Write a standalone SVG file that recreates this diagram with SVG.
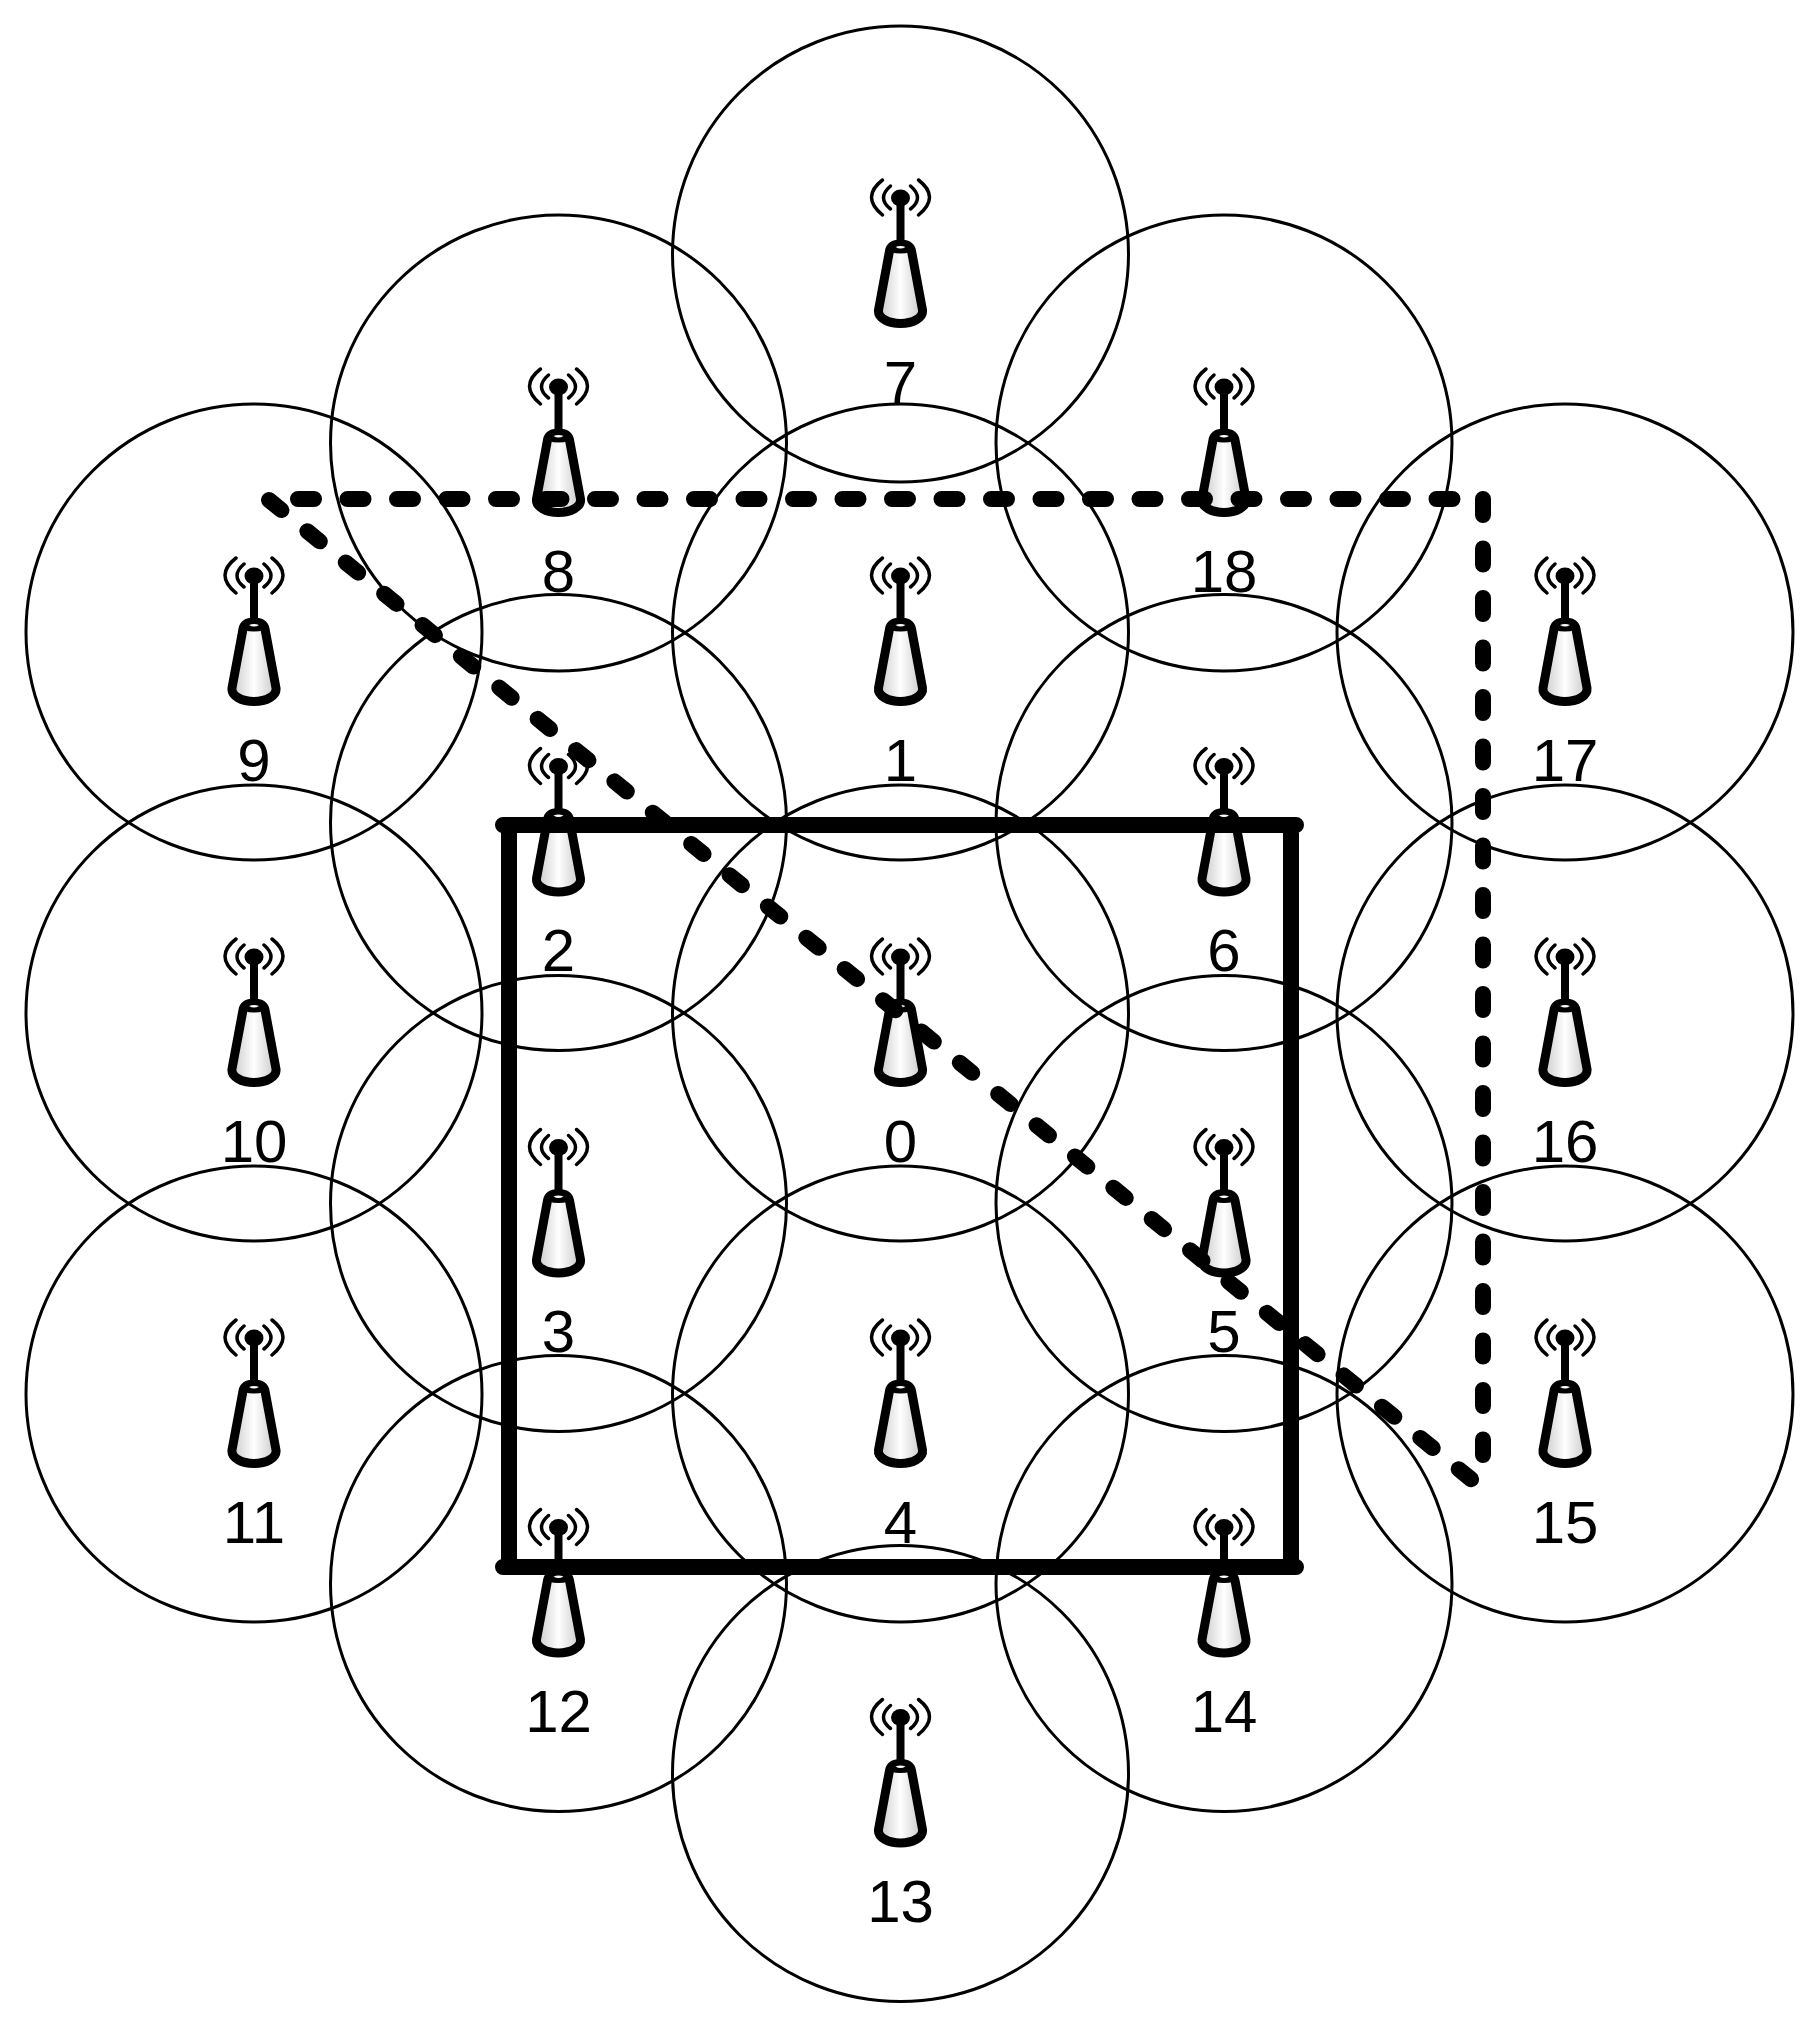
<svg xmlns="http://www.w3.org/2000/svg" width="1820" height="2018" viewBox="0 0 1820 2018">
<style>
.cell{fill:none;stroke:#000;stroke-width:3}
.lbl{font-family:"Liberation Sans",Arial,sans-serif;font-size:60px;text-anchor:middle;fill:#000}
.solid{stroke:#000;stroke-width:16;stroke-linecap:round;fill:none}
.dash{stroke:#000;stroke-width:16;stroke-linecap:round;stroke-dasharray:16 33.5;fill:none}
</style>
<defs>
<linearGradient id="g" x1="0" x2="1" y1="0" y2="0"><stop offset="0" stop-color="#c8c8c8"/><stop offset="0.5" stop-color="#ffffff"/><stop offset="1" stop-color="#c8c8c8"/></linearGradient>
<g id="ant">
<path d="M-11,-3 C-10,-8 -6,-10 0,-10 C6,-10 10,-8 11,-3 L22,56 C23,64 12,69.500 0,69.500 C-12,69.500 -23,64 -22,56 Z" fill="url(#g)" stroke="#000" stroke-width="9" stroke-linejoin="round"/>
<path d="M-10,-2 Q0,-14 10,-2 Q0,1 -10,-2Z" fill="#000"/>
<path d="M-5,-7 Q0,-4 5,-7 Q0,-9 -5,-7Z" fill="#fff"/>
<path d="M0,-56V-12" stroke="#000" stroke-width="8" fill="none"/>
<ellipse cx="0" cy="-56" rx="9.500" ry="8.500" fill="#000"/>
<g fill="none" stroke="#000" stroke-width="3.500" stroke-linecap="round">
<path d="M-10,-68 Q-24,-56 -10,-45M10,-68 Q24,-56 10,-45M-18,-74 Q-40,-57 -18,-39M18,-74 Q40,-57 18,-39"/>
</g>
</g>
</defs>
<rect width="1820" height="2018" fill="#fff"/>
<g id="node-0"><circle class="cell" cx="900.500" cy="1013" r="228"/><use href="#ant" x="900.500" y="1013"/><text class="lbl" x="900.500" y="1162">0</text></g>
<g id="node-1"><circle class="cell" cx="900.500" cy="632" r="228"/><use href="#ant" x="900.500" y="632"/><text class="lbl" x="900.500" y="781">1</text></g>
<g id="node-2"><circle class="cell" cx="558.500" cy="822.500" r="228"/><use href="#ant" x="558.500" y="822.500"/><text class="lbl" x="558.500" y="971">2</text></g>
<g id="node-3"><circle class="cell" cx="558.500" cy="1203.500" r="228"/><use href="#ant" x="558.500" y="1203.500"/><text class="lbl" x="558.500" y="1352">3</text></g>
<g id="node-4"><circle class="cell" cx="900.500" cy="1394" r="228"/><use href="#ant" x="900.500" y="1394"/><text class="lbl" x="900.500" y="1543">4</text></g>
<g id="node-5"><circle class="cell" cx="1224" cy="1203.500" r="228"/><use href="#ant" x="1224" y="1203.500"/><text class="lbl" x="1224" y="1352">5</text></g>
<g id="node-6"><circle class="cell" cx="1224" cy="822.500" r="228"/><use href="#ant" x="1224" y="822.500"/><text class="lbl" x="1224" y="971">6</text></g>
<g id="node-7"><circle class="cell" cx="900.500" cy="254" r="228"/><use href="#ant" x="900.500" y="254"/><text class="lbl" x="900.500" y="403">7</text></g>
<g id="node-8"><circle class="cell" cx="558.500" cy="443" r="228"/><use href="#ant" x="558.500" y="443"/><text class="lbl" x="558.500" y="592">8</text></g>
<g id="node-9"><circle class="cell" cx="254" cy="632" r="228"/><use href="#ant" x="254" y="632"/><text class="lbl" x="254" y="781">9</text></g>
<g id="node-10"><circle class="cell" cx="254" cy="1013" r="228"/><use href="#ant" x="254" y="1013"/><text class="lbl" x="254" y="1162">10</text></g>
<g id="node-11"><circle class="cell" cx="254" cy="1394" r="228"/><use href="#ant" x="254" y="1394"/><text class="lbl" x="254" y="1543">11</text></g>
<g id="node-12"><circle class="cell" cx="558.500" cy="1583.500" r="228"/><use href="#ant" x="558.500" y="1583.500"/><text class="lbl" x="558.500" y="1732">12</text></g>
<g id="node-13"><circle class="cell" cx="900.500" cy="1773.500" r="228"/><use href="#ant" x="900.500" y="1773.500"/><text class="lbl" x="900.500" y="1922">13</text></g>
<g id="node-14"><circle class="cell" cx="1224" cy="1583.500" r="228"/><use href="#ant" x="1224" y="1583.500"/><text class="lbl" x="1224" y="1732">14</text></g>
<g id="node-15"><circle class="cell" cx="1565" cy="1394" r="228"/><use href="#ant" x="1565" y="1394"/><text class="lbl" x="1565" y="1543">15</text></g>
<g id="node-16"><circle class="cell" cx="1565" cy="1013" r="228"/><use href="#ant" x="1565" y="1013"/><text class="lbl" x="1565" y="1162">16</text></g>
<g id="node-17"><circle class="cell" cx="1565" cy="632" r="228"/><use href="#ant" x="1565" y="632"/><text class="lbl" x="1565" y="781">17</text></g>
<g id="node-18"><circle class="cell" cx="1224" cy="443" r="228"/><use href="#ant" x="1224" y="443"/><text class="lbl" x="1224" y="592">18</text></g>
<g id="connectors">
<path class="solid" d="M503,825H1296M1291,825V1567M1296,1567H503M509,1567V825"/>
<path class="dash" d="M298,499H1483"/>
<path class="dash" d="M1483,499V1455"/>
<path class="dash" d="M269,500L1472,1480"/>
</g>
</svg>
